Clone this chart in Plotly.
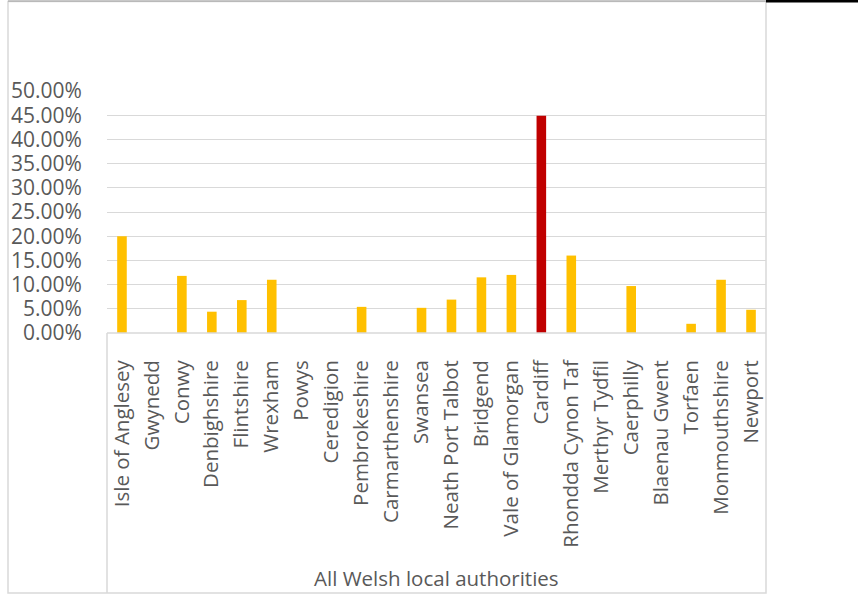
import plotly.graph_objects as go

categories = ["Isle of Anglesey", "Gwynedd", "Conwy", "Denbighshire", "Flintshire",
              "Wrexham", "Powys", "Ceredigion", "Pembrokeshire", "Carmarthenshire",
              "Swansea", "Neath Port Talbot", "Bridgend", "Vale of Glamorgan", "Cardiff",
              "Rhondda Cynon Taf", "Merthyr Tydfil", "Caerphilly", "Blaenau Gwent",
              "Torfaen", "Monmouthshire", "Newport"]
values = [0.200, 0.0, 0.118, 0.044, 0.068,
          0.110, 0.0, 0.0, 0.054, 0.0,
          0.052, 0.069, 0.115, 0.120, 0.449,
          0.160, 0.0, 0.097, 0.0,
          0.019, 0.110, 0.048]
highlight = "Cardiff"
group_label = "All Welsh local authorities"
y_ticks = [i * 0.05 for i in range(11)]

colors = ["#C00000" if c == highlight else "#FFC000" for c in categories]

W, H = 858, 595
L, R, T, B = 107, 766, 91, 333  # plot area pixels
pw, ph = R - L, B - T

def px(x):
    return (x - L) / pw

def py(y):
    return (B - y) / ph

fig = go.Figure(go.Bar(x=categories, y=values, marker=dict(color=colors, line=dict(width=0)),
                       width=0.32, hoverinfo="skip"))

xfont = dict(family="Open Sans, Segoe UI, sans-serif", size=20.5, color="#595959")
yfont = dict(family="Open Sans, Segoe UI, sans-serif", size=21, color="#595959")
border = "#D9D9D9"

shapes = [
    # outer chart border
    dict(type="rect", xref="paper", yref="paper", x0=px(8), x1=px(766), y0=py(593), y1=py(1.5),
         line=dict(color=border, width=1.5), layer="below"),
    # top edge darker
    dict(type="line", xref="paper", yref="paper", x0=px(8), x1=px(766), y0=py(1), y1=py(1),
         line=dict(color="#9A9A9A", width=1.2)),
    # black top line at right
    dict(type="line", xref="paper", yref="paper", x0=px(766), x1=px(858), y0=py(1.2), y1=py(1.2),
         line=dict(color="black", width=2.4)),
    # category box left edge
    dict(type="line", xref="paper", yref="paper", x0=0, x1=0, y0=py(593), y1=0,
         line=dict(color=border, width=1.5)),
    # category box top (axis line)
    dict(type="line", xref="paper", yref="paper", x0=0, x1=1, y0=0, y1=0,
         line=dict(color=border, width=1.5)),
]

fig.update_layout(
    width=W, height=H,
    margin=dict(l=L, r=W - R, t=T, b=H - B, pad=0),
    paper_bgcolor="white", plot_bgcolor="white",
    showlegend=False,
    font=xfont,
    bargap=0.68,
    shapes=shapes,
    annotations=[dict(text=group_label, xref="paper", yref="paper", x=0.5, y=py(578),
                      showarrow=False, xanchor="center", yanchor="middle", font=xfont)],
    xaxis=dict(tickangle=-90, showgrid=False, showline=False, zeroline=False,
               ticks="outside", ticklen=18, tickcolor="rgba(0,0,0,0)", tickfont=xfont,
               range=[-0.5, len(categories) - 0.5]),
    yaxis=dict(range=[0, 0.5], tickvals=y_ticks, tickformat=".2%",
               showgrid=True, gridcolor=border, gridwidth=1.3, zeroline=False,
               showline=False, ticks="outside", ticklen=20, tickcolor="rgba(0,0,0,0)",
               tickfont=yfont),
)

fig.write_html("out.html", config={"displayModeBar": False},
               post_script="document.body.style.margin='0px';document.body.style.overflow='hidden';")
